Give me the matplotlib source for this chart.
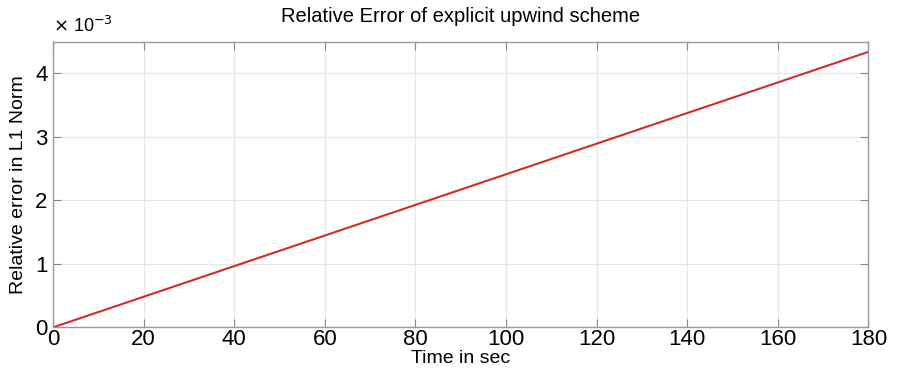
import numpy as np
import matplotlib.pyplot as plt

plt.rcParams['font.family'] = ['Liberation Sans', 'DejaVu Sans']

# Data (relative error in units of 1e-3)
time_sec = [0, 180]
rel_error_e3 = [0.0, 4.34]
xticks = [0, 20, 40, 60, 80, 100, 120, 140, 160, 180]
yticks = [0, 1, 2, 3, 4]

fig = plt.figure(figsize=(9.02, 3.72), dpi=100)
ax = fig.add_axes([0.0588, 0.120, 0.904, 0.768])

ax.plot(time_sec, rel_error_e3, color='#d42a2a', linewidth=1.5)

ax.set_xlim(0, 180)
ax.set_ylim(0, 4.5)
ax.set_xticks(xticks)
ax.set_yticks(yticks)
ax.tick_params(direction='in', top=True, right=True, length=6, width=0.8,
               color='#888888', labelsize=16, pad=1)
ax.tick_params(axis='y', pad=4)
for s in ax.spines.values():
    s.set_color('#999999')
    s.set_linewidth(1.0)
ax.grid(True, color='#e6e6e6', linewidth=0.8)

ax.set_title('Relative Error of explicit upwind scheme', fontsize=14.5, pad=14)
ax.set_xlabel('Time in sec', fontsize=14, labelpad=0)
ax.set_ylabel('Relative error in L1 Norm', fontsize=14, labelpad=6)
ax.text(0, 1.02, r'$\times$ 10$^{-3}$', transform=ax.transAxes, fontsize=13,
        ha='left', va='bottom')

fig.savefig('out.png', dpi=100)
